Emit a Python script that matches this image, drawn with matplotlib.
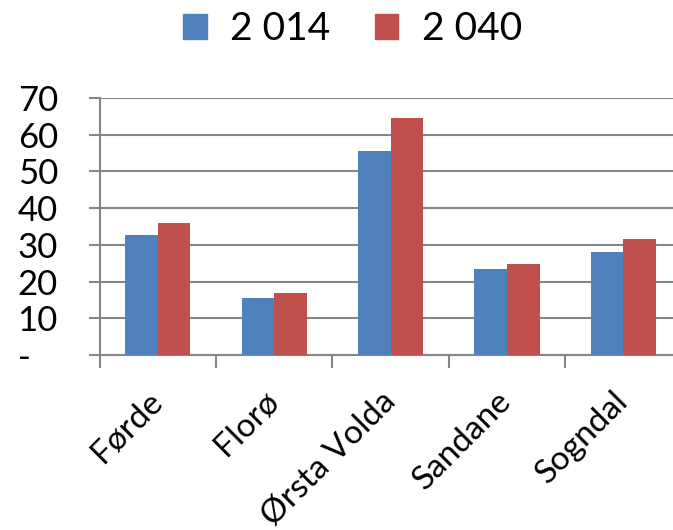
import numpy as np
import matplotlib.pyplot as plt
from matplotlib.patches import Patch

plt.rcParams['font.family'] = ['Lato', 'DejaVu Sans']

# data
steder = ['Førde', 'Florø', 'Ørsta Volda', 'Sandane', 'Sogndal']
serier = ['2 014', '2 040']
v2014 = [32.8, 15.5, 55.6, 23.4, 28.1]
v2040 = [36.0, 17.0, 64.5, 24.8, 31.7]
yticks = [0, 10, 20, 30, 40, 50, 60, 70]
ylabels = ['-   ', '10', '20', '30', '40', '50', '60', '70']

blaa = '#4F81BD'
raud = '#C0504D'
graa = '#868686'

fig = plt.figure(figsize=(6.73, 5.3), dpi=100)
ax = fig.add_axes([0.148, 0.3302, 0.8648, 0.4849])

x = np.arange(len(steder))
w = 0.28
ax.bar(x - w / 2, v2014, w, color=blaa, zorder=3)
ax.bar(x + w / 2, v2040, w, color=raud, zorder=3)

ax.set_ylim(0, 70)
ax.set_xlim(-0.5, len(steder) - 0.5)
ax.set_yticks(yticks)
ax.set_yticklabels(ylabels, fontsize=25)
ax.yaxis.grid(True, color=graa, linewidth=1.5, zorder=0)

ax.set_xticks(x)
ax.set_xticklabels(steder, fontsize=24, rotation=45, ha='right', va='center',
                   rotation_mode='anchor')
ax.set_xticks(np.arange(-0.5, len(steder)), minor=True)
ax.tick_params(axis='x', which='major', length=0, pad=30)
ax.tick_params(axis='x', which='minor', length=9, width=1.5, color=graa)
ax.tick_params(axis='y', length=8, width=1.5, color=graa, pad=22)

for s in ['top', 'right']:
    ax.spines[s].set_visible(False)
for s in ['left', 'bottom']:
    ax.spines[s].set_color(graa)
    ax.spines[s].set_linewidth(1.5)

handles = [Patch(color=blaa, label=serier[0]), Patch(color=raud, label=serier[1])]
fig.legend(handles=handles, loc='upper center', bbox_to_anchor=(0.524, 1.045),
           ncol=2, frameon=False, fontsize=28, handlelength=0.6, handleheight=0.6,
           handletextpad=0.6, columnspacing=1.15)

fig.savefig('out.png', dpi=100)
